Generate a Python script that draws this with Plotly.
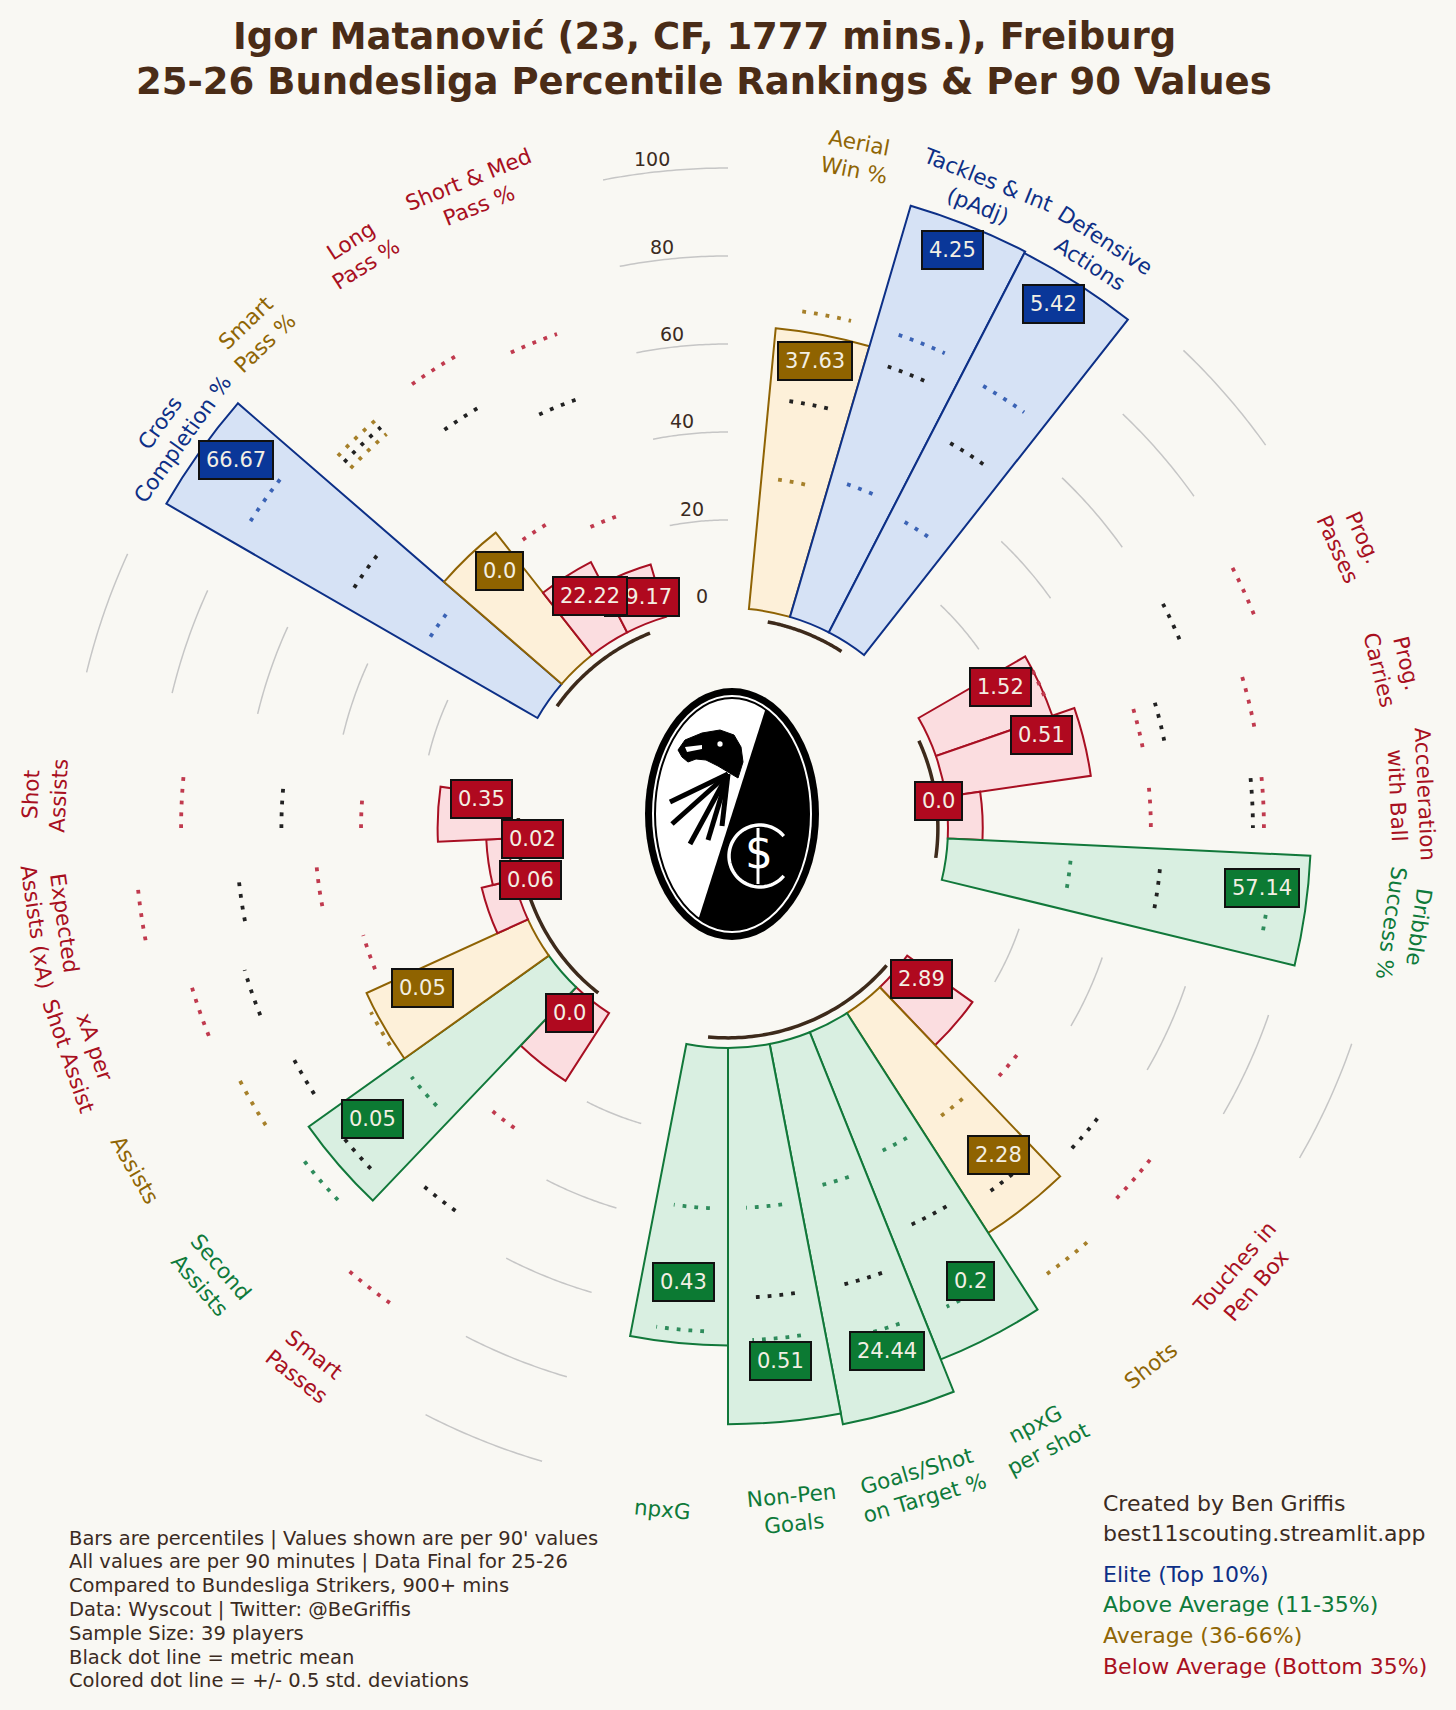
import numpy as np
import plotly.graph_objects as go

# ---- data ----
metric_labels = [
    "Aerial<br>Win %", "Tackles & Int<br>(pAdj)", "Defensive<br>Actions",
    "Prog.<br>Passes", "Prog.<br>Carries", "Acceleration<br>with Ball", "Dribble<br>Success %",
    "Touches in<br>Pen Box", "Shots", "npxG<br>per shot", "Goals/Shot<br>on Target %", "Non-Pen<br>Goals", "npxG",
    "Smart<br>Passes", "Second<br>Assists", "Assists", "xA per<br>Shot Assist", "Expected<br>Assists (xA)", "Shot<br>Assists",
    "Cross<br>Completion %", "Smart<br>Pass %", "Long<br>Pass %", "Short & Med<br>Pass %",
]
group_sizes = [3, 4, 6, 6, 4]
percentiles = [64.1, 97.4, 97.0, 28.0, 33.3, 7.9, 82.5, 18.2, 59.4, 80.1, 88.0, 85.5, 67.6,
               18.3, 67.0, 40.3, 7.6, 5.0, 16.0, 97.4, 35.4, 18.0, 12.4]
per90_values = [37.63, 4.25, 5.42, 1.52, 0.51, 0.0, 57.14, 2.89, 2.28, 0.2, 24.44, 0.51, 0.43,
                0.0, 0.05, 0.05, 0.06, 0.02, 0.35, 66.67, 0.0, 22.22, 79.17]
mean_pct = [48.0, 61.0, 51.0, 61.2, 51.1, 69.3, 48.6, 56.8, 51.8, 49.3, 57.0, 56.8, 52.0,
            56.8, 62.2, 61.8, 64.5, 61.8, 51.5, 51.0, 70.5, 61.1, 53.3]
low_pct = [30.0, 32.7, 30.3, 27.9, 46.0, 46.1, 28.2, 33.5, 31.4, 31.3, 33.9, 36.4, 36.5,
           33.7, 41.5, 41.3, 36.4, 43.9, 33.4, 30.4, 68.5, 30.4, 25.2]
high_pct = [68.6, 68.6, 66.0, 79.0, 71.8, 71.8, 73.8, 72.0, 74.6, 69.6, 69.2, 66.5, 64.5,
            82.5, 72.5, 74.9, 77.1, 84.8, 74.3, 79.0, 72.5, 73.8, 68.8]
radial_ticks = [0, 20, 40, 60, 80, 100]

title_lines = ["Igor Matanović (23, CF, 1777 mins.), Freiburg",
               "25-26 Bundesliga Percentile Rankings & Per 90 Values"]
notes = ["Bars are percentiles | Values shown are per 90' values",
         "All values are per 90 minutes | Data Final for 25-26",
         "Compared to Bundesliga Strikers, 900+ mins",
         "Data: Wyscout | Twitter: @BeGriffis",
         "Sample Size: 39 players",
         "Black dot line = metric mean",
         "Colored dot line = +/- 0.5 std. deviations"]
credits = ["Created by Ben Griffis", "best11scouting.streamlit.app"]
legend_items = [("Elite (Top 10%)", "elite"), ("Above Average (11-35%)", "above"),
                ("Average (36-66%)", "avg"), ("Below Average (Bottom 35%)", "below")]

# ---- styling ----
BG = "#f9f8f3"
BROWN = "#4a2c17"
TXT = "#3b2b1f"
FONT = "DejaVu Sans"
STY = {
    "elite": dict(fill="#d6e2f5", edge="#0d3087", box="#0a3799", dot="#3b63b5", text="#0d2f86"),
    "above": dict(fill="#d9efe1", edge="#11783a", box="#0c7a33", dot="#2f8c5c", text="#0e7a3a"),
    "avg": dict(fill="#fdf0d9", edge="#8f6304", box="#8f6300", dot="#a6802a", text="#8f6504"),
    "below": dict(fill="#fbdde0", edge="#a80f22", box="#b0091f", dot="#c03a4e", text="#a8101f"),
}


def category(p):
    if p >= 90:
        return "elite"
    if p >= 65:
        return "above"
    if p >= 35:
        return "avg"
    return "below"


# ---- geometry ----
W, H = 1456, 1710
CX, CY = 728, 828          # polar centre (px from top-left)
PX = 4.4                   # px per percentile unit
R0 = 50                    # p=0 sits R0 units from the centre
RMAX = 110
half = (RMAX + R0) * PX

n_slots = sum(group_sizes) + 2 * len(group_sizes)
step = 360 / n_slots
thetas, group_first_last, gap_centres = [], [], []
s = 1
for g in group_sizes:
    idx = list(range(s, s + g))
    thetas += [i * step for i in idx]
    group_first_last.append((idx[0] * step, idx[-1] * step))
    gap_centres.append((idx[-1] + 1.5) * step)
    s += g + 2

cats = [category(p) for p in percentiles]


def xy(theta, p):
    rr = p + R0
    t = np.radians(theta)
    return rr * np.sin(t), rr * np.cos(t)


fig = go.Figure()

# bars
fig.add_trace(go.Barpolar(
    r=percentiles, theta=thetas, base=[0] * len(percentiles), width=[step] * len(percentiles),
    marker=dict(color=[STY[c]["fill"] for c in cats],
                line=dict(color=[STY[c]["edge"] for c in cats], width=2)),
    hoverinfo="skip", showlegend=False))

# grid arcs only in the gaps
for gc in gap_centres:
    arc = np.linspace(gc - step / 2, gc + step / 2, 30)
    for rt in radial_ticks[1:]:
        fig.add_trace(go.Scatterpolar(r=[rt] * len(arc), theta=arc, mode="lines",
                                      line=dict(color="#c6c6c6", width=1.5),
                                      hoverinfo="skip", showlegend=False))

# group base arcs
for a0, a1 in group_first_last:
    arc = np.linspace(a0, a1, 60)
    fig.add_trace(go.Scatterpolar(r=[-2.3] * len(arc), theta=arc, mode="lines",
                                  line=dict(color="#3d2a1b", width=3.5),
                                  hoverinfo="skip", showlegend=False))

# mean / std dotted lines
for th, c, lo, mu, hi in zip(thetas, cats, low_pct, mean_pct, high_pct):
    seg = np.linspace(th - step / 4, th + step / 4, 20)
    for val, col in [(lo, STY[c]["dot"]), (hi, STY[c]["dot"]), (mu, "#222222")]:
        fig.add_trace(go.Scatterpolar(r=[val] * len(seg), theta=seg, mode="lines",
                                      line=dict(color=col, width=3.8, dash="3.8px,8px"),
                                      hoverinfo="skip", showlegend=False))

# dummy cartesian trace so the overlay axes exist
fig.add_trace(go.Scatter(x=[], y=[], xaxis="x", yaxis="y", showlegend=False, hoverinfo="skip"))

annotations = []

# value boxes (reverse order so earlier metrics sit on top)
for th, p, v, c in reversed(list(zip(thetas, percentiles, per90_values, cats))):
    x, y = xy(th, p - 10)
    annotations.append(dict(x=x, y=y, xref="x", yref="y", text=str(v), showarrow=False,
                            yshift=17, font=dict(family=FONT, size=21, color="#f3efe4"),
                            bgcolor=STY[c]["box"], bordercolor="#111111", borderwidth=2,
                            borderpad=6))

# metric labels
for th, lab, c in zip(thetas, metric_labels, cats):
    x, y = xy(th, 105.5)
    if th < 110:
        rot = th
    elif th < 270:
        rot = th - 180
    else:
        rot = th - 360
    annotations.append(dict(x=x, y=y, xref="x", yref="y", text=lab, showarrow=False,
                            textangle=rot, align="center",
                            font=dict(family=FONT, size=21.5, color=STY[c]["text"])))

# radial tick labels in the top gap
for rt in radial_ticks:
    x, y = xy(gap_centres[-1] - 1, rt + 3)
    annotations.append(dict(x=x, y=y, xref="x", yref="y", text=str(rt), showarrow=False,
                            font=dict(family=FONT, size=19, color=TXT)))

# title
for i, t in enumerate(title_lines):
    annotations.append(dict(x=704 / W, y=1 - (37 + 45 * i) / H, xref="paper", yref="paper",
                            text=t, showarrow=False, xanchor="center", yanchor="middle",
                            font=dict(family=FONT, size=37, color=BROWN, weight="bold")))

# notes bottom-left
for i, t in enumerate(notes):
    annotations.append(dict(x=67 / W, y=1 - (1538 + 23.8 * i) / H, xref="paper", yref="paper",
                            text=t, showarrow=False, xanchor="left", yanchor="middle",
                            font=dict(family=FONT, size=19.5, color=TXT)))

# credits + legend bottom-right
for i, t in enumerate(credits):
    annotations.append(dict(x=1101 / W, y=1 - (1503 + 30.5 * i) / H, xref="paper", yref="paper",
                            text=t, showarrow=False, xanchor="left", yanchor="middle",
                            font=dict(family=FONT, size=22, color=TXT)))
for i, (t, c) in enumerate(legend_items):
    annotations.append(dict(x=1101 / W, y=1 - (1574 + 30.8 * i) / H, xref="paper", yref="paper",
                            text=t, showarrow=False, xanchor="left", yanchor="middle",
                            font=dict(family=FONT, size=22, color=STY[c]["text"])))

# ---- simplified club crest in the hole ----
LOGO_DX, LOGO_DY = 4, -14
LA, LB = 87, 126


def u(dx, dy):
    return (LOGO_DX + dx) / PX, -(LOGO_DY + dy) / PX


def ellipse(a, b, **kw):
    x0, y0 = u(-a, b)
    x1, y1 = u(a, -b)
    return dict(type="circle", xref="x", yref="y", x0=x0, x1=x1, y0=y0, y1=y1, layer="above", **kw)


def path(pts, close=True):
    d = "M " + " L ".join(f"{px:.3f},{py:.3f}" for px, py in (u(a, b) for a, b in pts))
    return d + (" Z" if close else "")


shapes = [
    ellipse(LA, LB, fillcolor="black", line=dict(width=0)),
    ellipse(LA - 7, LB - 7, fillcolor="white", line=dict(width=0)),
    ellipse(LA - 10, LB - 10, fillcolor="white", line=dict(color="black", width=2)),
]
ia, ib = LA - 10, LB - 10
t1 = np.arctan2(0.953 * ia, 0.304 * ib)
ts = np.linspace(t1, t1 - np.pi, 80)
half_pts = [(ia * np.cos(t), -ib * np.sin(t)) for t in ts]
shapes.append(dict(type="path", xref="x", yref="y", path=path(half_pts), fillcolor="black",
                   line=dict(width=0), layer="above"))
head = [(-54, -64), (-47, -74), (-30, -81), (-12, -84), (2, -79), (9, -67), (11, -52), (6, -36),
        (-4, -42), (-14, -48), (-26, -54), (-36, -55), (-44, -52), (-50, -57)]
shapes.append(dict(type="path", xref="x", yref="y", path=path(head), fillcolor="black",
                   line=dict(color="black", width=1), layer="above"))
shapes.append(dict(type="path", xref="x", yref="y",
                   path=path([(-47, -67), (-30, -69), (-30, -65), (-45, -62)]),
                   fillcolor="white", line=dict(width=0), layer="above"))
ex0, ey0 = u(-12, -70)
shapes.append(dict(type="circle", xref="x", yref="y", x0=ex0 - 0.6, x1=ex0 + 0.6,
                   y0=ey0 - 0.6, y1=ey0 + 0.6, fillcolor="white", line=dict(width=0), layer="above"))
for ex, ey in [(-62, -12), (-60, 10), (-42, 30), (-24, 26), (-10, 12)]:
    shapes.append(dict(type="path", xref="x", yref="y", path=path([(-4, -40), (ex, ey)], close=False),
                       line=dict(color="black", width=5), layer="above"))
ca = np.radians(np.linspace(40, 320, 60))
c_pts = [(28 + 31 * np.cos(t), 42 - 31 * np.sin(t)) for t in ca]
shapes.append(dict(type="path", xref="x", yref="y", path=path(c_pts, close=False),
                   line=dict(color="white", width=3.5), layer="above"))
shapes.append(dict(type="path", xref="x", yref="y", path=path([(26, 14), (26, 70)], close=False),
                   line=dict(color="white", width=3), layer="above"))
sx, sy = u(26, 40)
annotations.append(dict(x=sx, y=sy, xref="x", yref="y", text="S", showarrow=False,
                        font=dict(family=FONT, size=40, color="white")))

dom_x = [(CX - half) / W, (CX + half) / W]
dom_y = [1 - (CY + half) / H, 1 - (CY - half) / H]
lim = RMAX + R0

fig.update_layout(
    width=W, height=H, margin=dict(l=0, r=0, t=0, b=0),
    paper_bgcolor=BG, plot_bgcolor="rgba(0,0,0,0)",
    polar=dict(domain=dict(x=dom_x, y=dom_y), bgcolor="rgba(0,0,0,0)",
               radialaxis=dict(range=[-R0, RMAX], visible=False),
               angularaxis=dict(rotation=90, direction="clockwise", visible=False)),
    xaxis=dict(domain=dom_x, range=[-lim, lim], visible=False, fixedrange=True),
    yaxis=dict(domain=dom_y, range=[-lim, lim], visible=False, fixedrange=True),
    annotations=annotations, shapes=shapes, bargap=0,
)

fig.write_html("out.html", config={"displayModeBar": False},
               post_script="document.body.style.margin='0';document.body.style.background='" + BG + "';")
